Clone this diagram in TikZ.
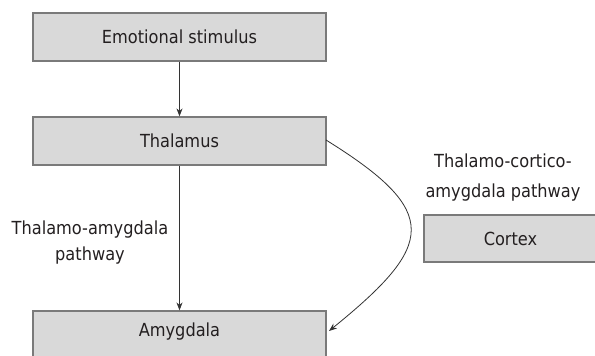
\documentclass[tikz,border=0pt]{standalone}
\usepackage{fontspec}
\setmainfont{DejaVu Sans Condensed}
\usetikzlibrary{arrows.meta}
\definecolor{boxfill}{HTML}{D9D9D9}
\definecolor{boxline}{HTML}{7A7A7A}
\definecolor{inkc}{HTML}{231F20}
\definecolor{linec}{HTML}{333333}
\tikzset{
  box/.style={draw=boxline, fill=boxfill, line width=1.2pt, rectangle,
    minimum height=48pt, inner sep=0pt, text=inkc, font=\fontsize{18}{22}\selectfont},
  lbl/.style={align=center, text=inkc, inner sep=0pt},
  conn/.style={draw=linec, line width=0.8pt, -{Stealth[length=8pt,width=6pt]}}
}
\begin{document}
\begin{tikzpicture}[x=1pt,y=-1pt]
\useasboundingbox (0,0) rectangle (595,356);
\node[box, minimum width=293pt] (emo) at (179.5,37) {Emotional stimulus};
\node[box, minimum width=293pt] (thal) at (179.5,141) {Thalamus};
\node[box, minimum width=293pt, text height=13pt, text depth=11pt] (amy) at (179.5,335) {Amygdala};
\node[box, minimum width=173pt, minimum height=47pt] (cor) at (510.5,238.5) {Cortex};
\node[lbl, font=\fontsize{18}{26}\selectfont] (lblL) at (90,243) {Thalamo-amygdala\\pathway};
\node[lbl, font=\fontsize{18}{30}\selectfont] (lblR) at (503,178) {Thalamo-cortico-\\amygdala pathway};
\draw[conn] (emo.south) -- (thal.north);
\draw[conn] (thal.south) -- (amy.north);
\coordinate (cs) at (326,140);
\coordinate (ce) at (329,331);
\draw[conn] (cs) .. controls (442,212) and (435,245) .. (ce);
\end{tikzpicture}
\end{document}
